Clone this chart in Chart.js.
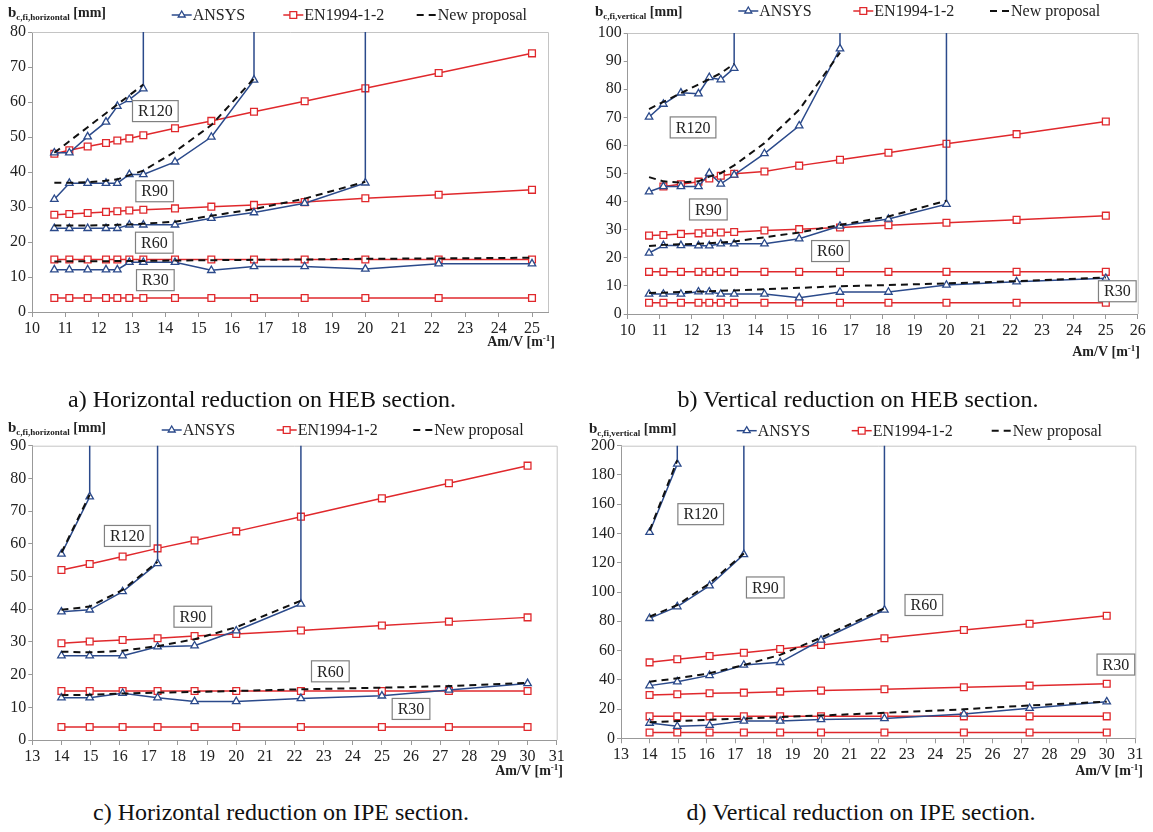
<!DOCTYPE html>
<html>
<head>
<meta charset="utf-8">
<script src="https://cdn.jsdelivr.net/npm/chart.js@4.4.0/dist/chart.umd.min.js"></script>
<style>
  body { margin: 0; background: #fff; width: 1153px; height: 832px; position: relative; overflow: hidden; font-family: "Liberation Serif", serif; }
  canvas { position: absolute; }
  .cap { position: absolute; font-size: 24px; color: #111; white-space: nowrap; transform: translateX(-50%); }
</style>
</head>
<body>
<canvas id="pa" width="576" height="365" style="left:0;top:0"></canvas>
<canvas id="pb" width="577" height="365" style="left:576px;top:0"></canvas>
<canvas id="pc" width="576" height="380" style="left:0;top:410px"></canvas>
<canvas id="pd" width="577" height="380" style="left:576px;top:410px"></canvas>
<div class="cap" style="left:262px;top:386px">a) Horizontal reduction on HEB section.</div>
<div class="cap" style="left:858px;top:386px">b) Vertical reduction on HEB section.</div>
<div class="cap" style="left:281px;top:799px">c) Horizontal reduction on IPE section.</div>
<div class="cap" style="left:861px;top:799px">d) Vertical reduction on IPE section.</div>
<script>
// Am/V values of the sections [m-1]
const xHEB = [10.67, 11.12, 11.67, 12.22, 12.56, 12.92, 13.34, 14.29, 15.38, 16.66, 18.18, 20.0, 22.2, 25.0];
const xIPE = [14.0, 14.97, 16.1, 17.3, 18.57, 20.0, 22.22, 25.0, 27.3, 30.0];

const hebXTicks = [10, 11, 12, 13, 14, 15, 16, 17, 18, 19, 20, 21, 22, 23, 24, 25];
const hebVXTicks = [10, 11, 12, 13, 14, 15, 16, 17, 18, 19, 20, 21, 22, 23, 24, 25, 26];
const ipeXTicks = [13, 14, 15, 16, 17, 18, 19, 20, 21, 22, 23, 24, 25, 26, 27, 28, 29, 30, 31];

// a) horizontal, HEB
const hebH_ansys_R30 = [12.1, 12.1, 12.1, 12.1, 12.1, 14.2, 14.2, 14.2, 11.9, 13.0, 13.0, 12.3, 13.8, 13.8];
const hebH_ansys_R60 = [23.9, 23.9, 23.9, 23.9, 23.9, 24.9, 24.9, 24.9, 26.8, 28.4, 31.1, 36.9];
const hebH_ansys_R90 = [32.2, 36.8, 36.8, 36.8, 36.8, 39.3, 39.3, 42.9, 50.0, 66.3];
const hebH_ansys_R120 = [45.5, 45.5, 50.1, 54.3, 58.8, 60.7, 63.8];
const hebH_en_R30 = [4, 4, 4, 4, 4, 4, 4, 4, 4, 4, 4, 4, 4, 4];
const hebH_en_R60 = [15, 15, 15, 15, 15, 15, 15, 15, 15, 15, 15, 15, 15, 15];
const hebH_en_R90 = [27.8, 28.0, 28.3, 28.6, 28.8, 29.0, 29.2, 29.6, 30.1, 30.6, 31.4, 32.5, 33.5, 34.9];
const hebH_en_R120 = [45.2, 46.2, 47.3, 48.3, 49.0, 49.6, 50.5, 52.5, 54.6, 57.2, 60.2, 63.9, 68.3, 73.9];
const hebH_np_R30 = [14.4, 14.5, 14.5, 14.5, 14.6, 14.6, 14.6, 14.7, 14.8, 14.9, 15.0, 15.2, 15.3, 15.5];
const hebH_np_R60 = [24.7, 24.7, 24.7, 24.8, 24.9, 25.0, 25.2, 25.8, 27.5, 29.4, 32.4, 37.2];
const hebH_np_R90 = [36.9, 36.9, 37.1, 37.5, 37.9, 39.1, 40.4, 45.8, 53.4, 66.7];
const hebH_np_R120 = [45.5, 48.8, 52.8, 56.8, 59.3, 61.9, 65.0];

// b) vertical, HEB
const hebV_ansys_R30 = [7.1, 7.1, 7.1, 7.9, 7.9, 7.1, 7.1, 7.1, 5.8, 7.8, 7.8, 10.3, 11.5, 12.7];
const hebV_ansys_R60 = [21.7, 24.4, 24.4, 24.3, 24.3, 25.0, 25.0, 25.0, 26.8, 31.3, 33.8, 39.1];
const hebV_ansys_R90 = [43.5, 45.4, 45.4, 45.4, 50.1, 46.3, 49.5, 57.1, 67.0, 94.4];
const hebV_ansys_R120 = [70.1, 74.7, 78.7, 78.4, 84.2, 83.4, 87.5];
const hebV_en_R30 = [4, 4, 4, 4, 4, 4, 4, 4, 4, 4, 4, 4, 4, 4];
const hebV_en_R60 = [15, 15, 15, 15, 15, 15, 15, 15, 15, 15, 15, 15, 15, 15];
const hebV_en_R90 = [27.9, 28.1, 28.5, 28.7, 28.9, 29.0, 29.2, 29.7, 30.2, 30.8, 31.6, 32.5, 33.5, 35.0];
const hebV_en_R120 = [null, 45.4, 46.2, 47.1, 48.2, 49.2, 49.9, 50.7, 52.8, 54.9, 57.4, 60.6, 64.0, 68.5];
const hebV_np_R30 = [7.5, 7.6, 7.8, 8.0, 8.1, 8.3, 8.4, 8.8, 9.3, 9.9, 10.3, 10.9, 11.7, 13.0];
const hebV_np_R60 = [24.2, 24.6, 24.8, 25.0, 25.2, 25.4, 25.8, 27.3, 29.0, 31.7, 34.7, 40.3];
const hebV_np_R90 = [48.7, 47.2, 46.8, 47.2, 48.9, 50.1, 52.9, 60.8, 72.7, 93.0];
const hebV_np_R120 = [72.9, 75.5, 78.6, 81.7, 83.6, 85.7, 89.0];

// c) horizontal, IPE
const ipeH_ansys_R30 = [12.9, 12.9, 14.3, 12.9, 11.8, 11.8, 12.7, 13.5, 15.3, 17.3];
const ipeH_ansys_R60 = [25.8, 25.8, 25.8, 28.5, 28.8, 33.4, 41.6];
const ipeH_ansys_R90 = [39.2, 39.8, 45.4, 54.0];
const ipeH_ansys_R120 = [56.9, 74.4];
const ipeH_en_R30 = [4, 4, 4, 4, 4, 4, 4, 4, 4, 4];
const ipeH_en_R60 = [15, 15, 15, 15, 15, 15, 15, 15, 15, 15];
const ipeH_en_R90 = [29.6, 30.1, 30.6, 31.1, 31.8, 32.4, 33.5, 35.0, 36.2, 37.5];
const ipeH_en_R120 = [52.0, 53.8, 56.1, 58.6, 61.0, 63.8, 68.3, 73.9, 78.5, 83.9];
const ipeH_np_R30 = [13.7, 13.8, 14.2, 14.5, 14.7, 15.0, 15.5, 16.0, 16.5, 17.5];
const ipeH_np_R60 = [27.0, 26.8, 27.3, 28.7, 30.8, 34.5, 42.6];
const ipeH_np_R90 = [39.8, 40.8, 45.9, 54.5];
const ipeH_np_R120 = [57.3, 75.0];

// d) vertical, IPE
const ipeV_ansys_R30 = [10.4, 8.2, 8.9, 11.8, 11.8, 12.8, 13.5, 16.6, 20.5, 25.0];
const ipeV_ansys_R60 = [36.0, 38.7, 43.0, 50.1, 51.9, 67.2, 87.7];
const ipeV_ansys_R90 = [82.0, 90.0, 104.3, 125.7];
const ipeV_ansys_R120 = [140.8, 187.5];
const ipeV_en_R30 = [4, 4, 4, 4, 4, 4, 4, 4, 4, 4];
const ipeV_en_R60 = [15, 15, 15, 15, 15, 15, 15, 15, 15, 15];
const ipeV_en_R90 = [29.6, 30.1, 30.8, 31.2, 31.9, 32.6, 33.5, 34.9, 36.0, 37.3];
const ipeV_en_R120 = [51.9, 54.0, 56.3, 58.5, 61.0, 63.8, 68.4, 74.0, 78.3, 83.8];
const ipeV_np_R30 = [11.0, 11.8, 12.7, 13.5, 14.5, 15.6, 17.4, 19.8, 22.5, 25.0];
const ipeV_np_R60 = [38.7, 41.0, 44.4, 50.1, 57.0, 68.8, 88.9];
const ipeV_np_R90 = [83.1, 91.1, 105.9, 126.4];
const ipeV_np_R120 = [142.0, 190.0];

const FONT = '"Liberation Serif", "Times New Roman", serif';
const BLUE = '#2b4a8b';
const RED = '#e0282c';
const OFF_TOP = 10000; // ANSYS curves run off the top of the axis (no solution)

Chart.defaults.font.family = FONT;

function pts(xs, ys, runsOff) {
  const out = [];
  ys.forEach((y, i) => { if (y !== null) out.push({ x: xs[i], y: y }); });
  if (runsOff) out.push({ x: out[out.length - 1].x, y: OFF_TOP });
  return out;
}

function makeDatasets(xs, ansys, en, np) {
  const ds = [];
  np.forEach(s => ds.push({
    data: pts(xs, s, false), borderColor: '#111', borderWidth: 2, borderDash: [7, 5],
    pointRadius: 0, order: 0
  }));
  ansys.forEach((s, i) => ds.push({
    data: pts(xs, s, i > 0), borderColor: BLUE, borderWidth: 1.5,
    pointStyle: 'triangle', pointBackgroundColor: '#fff', pointBorderColor: BLUE, pointBorderWidth: 1.3,
    pointRadius: c => (c.raw && c.raw.y >= OFF_TOP ? 0 : 4.3), order: 1
  }));
  en.forEach(s => ds.push({
    data: pts(xs, s, false), borderColor: RED, borderWidth: 1.5,
    pointStyle: 'rect', pointBackgroundColor: '#fff', pointBorderColor: RED, pointBorderWidth: 1.3,
    pointRadius: 4.8, order: 2
  }));
  return ds;
}

const decor = {
  id: 'decor',
  beforeDatasetsDraw(chart) {
    const a = chart.chartArea, ctx = chart.ctx;
    ctx.save();
    ctx.strokeStyle = '#c4c4c4';
    ctx.lineWidth = 1;
    ctx.beginPath();
    ctx.moveTo(a.left, a.top + 0.5); ctx.lineTo(a.right + 0.5, a.top + 0.5); ctx.lineTo(a.right + 0.5, a.bottom);
    ctx.stroke();
    ctx.restore();
  },
  afterDraw(chart) {
    const o = chart.options.plugins.decor, ctx = chart.ctx;
    const xs = chart.scales.x, ys = chart.scales.y;
    ctx.save();
    // R labels
    ctx.font = '16px ' + FONT;
    ctx.textAlign = 'center';
    ctx.textBaseline = 'middle';
    o.labels.forEach(l => {
      const cx = xs.getPixelForValue(l.x), cy = ys.getPixelForValue(l.y);
      const w = ctx.measureText(l.t).width + 11, h = 21;
      ctx.fillStyle = '#fff';
      ctx.fillRect(cx - w / 2, cy - h / 2, w, h);
      ctx.strokeStyle = '#808080';
      ctx.lineWidth = 1.2;
      ctx.strokeRect(cx - w / 2, cy - h / 2, w, h);
      ctx.fillStyle = '#222';
      ctx.fillText(l.t, cx, cy + 1);
    });
    // legend
    const ly = o.legendY;
    const items = [
      { name: 'ANSYS', color: BLUE, mark: 'triangle' },
      { name: 'EN1994-1-2', color: RED, mark: 'rect' },
      { name: 'New proposal', color: '#111', mark: null }
    ];
    ctx.textAlign = 'left';
    ctx.font = '16px ' + FONT;
    items.forEach((it, i) => {
      const x0 = o.legendX[i];
      ctx.strokeStyle = it.color;
      ctx.lineWidth = it.mark ? 1.5 : 2;
      ctx.beginPath();
      if (it.mark) {
        ctx.moveTo(x0, ly); ctx.lineTo(x0 + 20, ly);
      } else {
        ctx.moveTo(x0, ly); ctx.lineTo(x0 + 7, ly);
        ctx.moveTo(x0 + 12, ly); ctx.lineTo(x0 + 19, ly);
      }
      ctx.stroke();
      if (it.mark) {
        ctx.fillStyle = '#fff';
        ctx.lineWidth = 1.3;
        ctx.strokeStyle = it.color;
        ctx.beginPath();
        if (it.mark === 'rect') {
          ctx.rect(x0 + 6.6, ly - 3.4, 6.8, 6.8);
        } else {
          ctx.moveTo(x0 + 10, ly - 4); ctx.lineTo(x0 + 13.5, ly + 2); ctx.lineTo(x0 + 6.5, ly + 2); ctx.closePath();
        }
        ctx.fill(); ctx.stroke();
      }
      ctx.fillStyle = '#222';
      ctx.fillText(it.name, x0 + 21, ly + 1);
    });
    // y title with subscript
    ctx.textBaseline = 'alphabetic';
    let tx = o.yTitle.x;
    const tb = o.yTitle.y;
    ctx.font = 'bold 15px ' + FONT;
    ctx.fillText('b', tx, tb); tx += ctx.measureText('b').width;
    ctx.font = 'bold 9px ' + FONT;
    ctx.fillText(o.yTitle.sub, tx, tb + 3); tx += ctx.measureText(o.yTitle.sub).width;
    ctx.font = 'bold 14px ' + FONT;
    ctx.fillText(' [mm]', tx, tb);
    // x title with superscript
    ctx.font = 'bold 14px ' + FONT;
    const p1 = 'Am/V [m', p3 = ']';
    const w1 = ctx.measureText(p1).width, w3 = ctx.measureText(p3).width;
    ctx.font = 'bold 9px ' + FONT;
    const w2 = ctx.measureText('-1').width;
    let sx = o.xTitle.right - (w1 + w2 + w3);
    ctx.font = 'bold 14px ' + FONT;
    ctx.fillText(p1, sx, o.xTitle.y); sx += w1;
    ctx.font = 'bold 9px ' + FONT;
    ctx.fillText('-1', sx, o.xTitle.y - 5); sx += w2;
    ctx.font = 'bold 14px ' + FONT;
    ctx.fillText(p3, sx, o.xTitle.y);
    ctx.restore();
  }
};

function makePanel(p) {
  new Chart(document.getElementById(p.id), {
    type: 'line',
    data: { datasets: makeDatasets(p.xs, p.ansys, p.en, p.np) },
    options: {
      responsive: false,
      animation: false,
      events: [],
      layout: { padding: p.pad },
      scales: {
        x: {
          type: 'linear', min: p.xMin, max: p.xMax,
          afterBuildTicks: s => { s.ticks = p.xTicks.map(v => ({ value: v })); },
          afterFit: s => { s.height = 30; },
          grid: { drawOnChartArea: false, drawTicks: true, tickLength: 5, color: '#999' },
          border: { color: '#999', width: 1 },
          ticks: { font: { family: FONT, size: 16 }, color: '#222', padding: 2, maxRotation: 0, autoSkip: false }
        },
        y: {
          type: 'linear', min: 0, max: p.yMax,
          ticks: { stepSize: p.yStep, font: { family: FONT, size: 16 }, color: '#222', padding: 2 },
          afterFit: s => { s.width = p.yW; },
          grid: { drawOnChartArea: false, drawTicks: true, tickLength: 4, color: '#999' },
          border: { color: '#999', width: 1 }
        }
      },
      plugins: {
        legend: { display: false },
        tooltip: { enabled: false },
        decor: {
          labels: p.labels, legendX: p.legendX, legendY: p.legendY,
          yTitle: p.yTitle, xTitle: p.xTitle
        }
      }
    },
    plugins: [decor]
  });
}

makePanel({
  id: 'pa', xs: xHEB, xMin: 10, xMax: 25.48, xTicks: hebXTicks, yMax: 80, yStep: 10, yW: 32,
  pad: { left: 0, top: 32, right: 28, bottom: 23 },
  ansys: [hebH_ansys_R30, hebH_ansys_R60, hebH_ansys_R90, hebH_ansys_R120],
  en: [hebH_en_R30, hebH_en_R60, hebH_en_R90, hebH_en_R120],
  np: [hebH_np_R30, hebH_np_R60, hebH_np_R90, hebH_np_R120],
  labels: [{ t: 'R120', x: 13.7, y: 57.4 }, { t: 'R90', x: 13.68, y: 34.5 }, { t: 'R60', x: 13.67, y: 19.8 }, { t: 'R30', x: 13.7, y: 9.1 }],
  legendX: [171.7, 283.3, 416.7], legendY: 15,
  yTitle: { x: 8, y: 17, sub: 'c,fi,horizontal' }, xTitle: { right: 555, y: 346 }
});

makePanel({
  id: 'pb', xs: xHEB, xMin: 10, xMax: 26, xTicks: hebVXTicks, yMax: 100, yStep: 10, yW: 30,
  pad: { left: 21.7, top: 33, right: 15.3, bottom: 21 },
  ansys: [hebV_ansys_R30, hebV_ansys_R60, hebV_ansys_R90, hebV_ansys_R120],
  en: [hebV_en_R30, hebV_en_R60, hebV_en_R90, hebV_en_R120],
  np: [hebV_np_R30, hebV_np_R60, hebV_np_R90, hebV_np_R120],
  labels: [{ t: 'R120', x: 12.05, y: 66.4 }, { t: 'R90', x: 12.53, y: 37.2 }, { t: 'R60', x: 16.36, y: 22.4 }, { t: 'R30', x: 25.36, y: 8.1 }],
  legendX: [162.3, 277.3, 414], legendY: 11,
  yTitle: { x: 19, y: 16, sub: 'c,fi,vertical' }, xTitle: { right: 564, y: 356 }
});

makePanel({
  id: 'pc', xs: xIPE, xMin: 13, xMax: 31, xTicks: ipeXTicks, yMax: 90, yStep: 10, yW: 32.3,
  pad: { left: 0, top: 35.7, right: 19.3, bottom: 20 },
  ansys: [ipeH_ansys_R30, ipeH_ansys_R60, ipeH_ansys_R90, ipeH_ansys_R120],
  en: [ipeH_en_R30, ipeH_en_R60, ipeH_en_R90, ipeH_en_R120],
  np: [ipeH_np_R30, ipeH_np_R60, ipeH_np_R90, ipeH_np_R120],
  labels: [{ t: 'R120', x: 16.26, y: 62.4 }, { t: 'R90', x: 18.51, y: 37.7 }, { t: 'R60', x: 23.23, y: 21.0 }, { t: 'R30', x: 26.0, y: 9.5 }],
  legendX: [161.7, 276.7, 413.3], legendY: 20,
  yTitle: { x: 8, y: 21.7, sub: 'c,fi,horizontal' }, xTitle: { right: 563, y: 365 }
});

makePanel({
  id: 'pd', xs: xIPE, xMin: 13, xMax: 31, xTicks: ipeXTicks, yMax: 200, yStep: 20, yW: 32,
  pad: { left: 13, top: 35.7, right: 17.7, bottom: 21.7 },
  ansys: [ipeV_ansys_R30, ipeV_ansys_R60, ipeV_ansys_R90, ipeV_ansys_R120],
  en: [ipeV_en_R30, ipeV_en_R60, ipeV_en_R90, ipeV_en_R120],
  np: [ipeV_np_R30, ipeV_np_R60, ipeV_np_R90, ipeV_np_R120],
  labels: [{ t: 'R120', x: 15.79, y: 153.2 }, { t: 'R90', x: 18.05, y: 103.1 }, { t: 'R60', x: 23.6, y: 91.1 }, { t: 'R30', x: 30.32, y: 50.4 }],
  legendX: [160.7, 275.7, 415.7], legendY: 20.7,
  yTitle: { x: 13, y: 22.7, sub: 'c,fi,vertical' }, xTitle: { right: 567, y: 365 }
});
</script>
</body>
</html>
